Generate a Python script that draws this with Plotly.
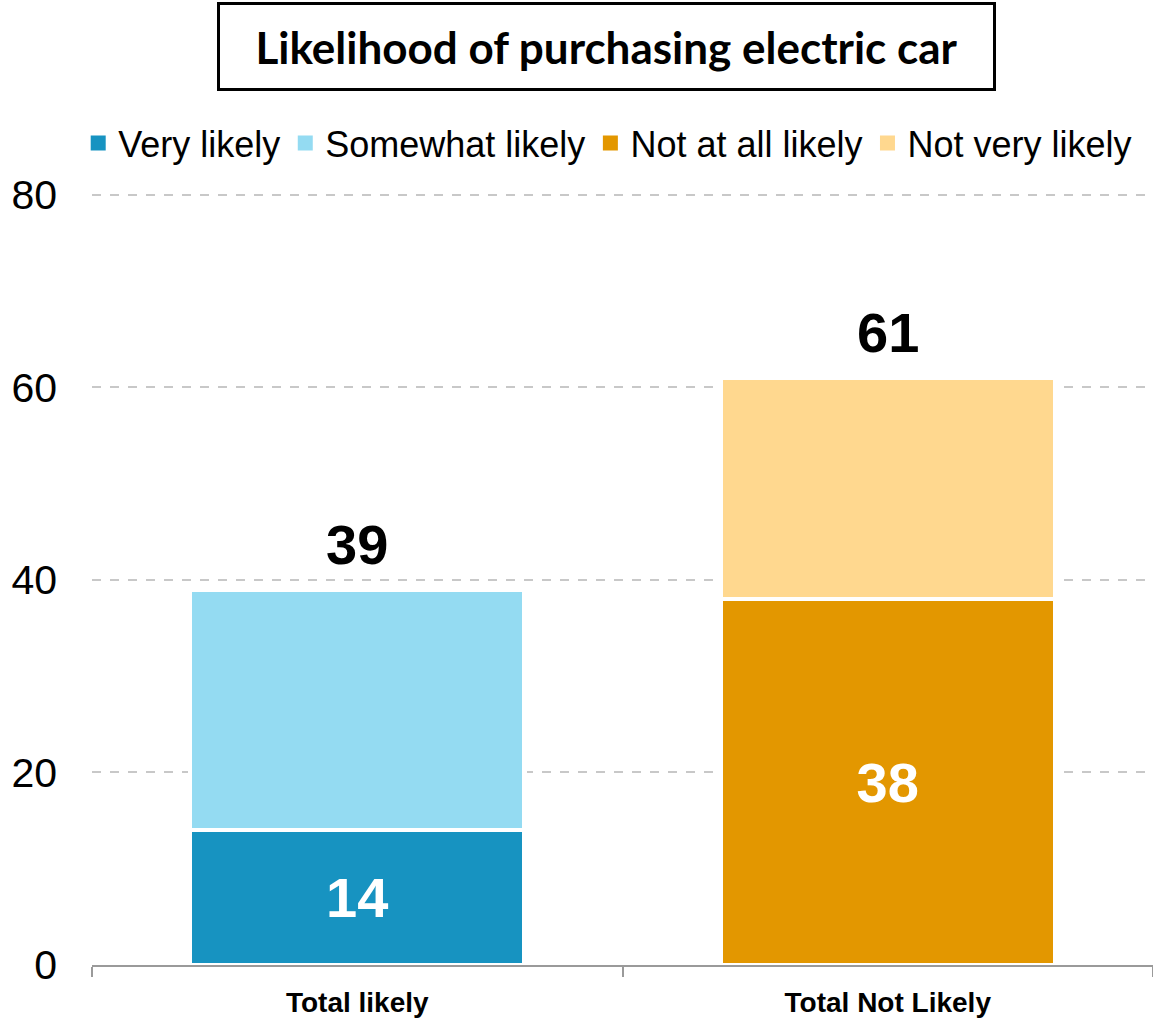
import plotly.graph_objects as go

CATEGORIES = ["Total likely", "Total Not Likely"]

SERIES_NAMES = ["Very likely", "Somewhat likely", "Not at all likely", "Not very likely"]
VERY_LIKELY = [14, None]
SOMEWHAT_LIKELY = [25, None]
NOT_AT_ALL_LIKELY = [None, 38]
NOT_VERY_LIKELY = [None, 23]

TOTALS = [39, 61]

TITLE = "Likelihood of purchasing electric car"

COLOR_VERY = "#1793C1"
COLOR_SOMEWHAT = "#94DBF2"
COLOR_NOT_AT_ALL = "#E39700"
COLOR_NOT_VERY = "#FFD88F"
COLOR_GRID = "#C8C8C8"
COLOR_AXIS = "#9A9A9A"

FONT = "Arial, Liberation Sans, sans-serif"

MARGIN_T = 192
PLOT_H = 1021 - MARGIN_T - 56


def _bar(name, values, color, labelled):
    return go.Bar(
        x=CATEGORIES,
        y=values,
        name=name,
        width=0.63,
        showlegend=False,
        marker={"color": color, "line": {"color": "white", "width": 4.5}},
        text=[str(v) if (labelled and v is not None) else "" for v in values],
        textposition="inside",
        insidetextanchor="middle",
        textangle=0,
        textfont={"family": FONT, "size": 56, "color": "white", "weight": "bold"},
        hoverinfo="name+y",
    )


def _legend_entry(name, color):
    # solo para la leyenda: cuadrado sólido del tamaño del original
    return go.Scatter(
        x=[None],
        y=[None],
        mode="markers",
        name=name,
        marker={"symbol": "square", "size": 15, "color": color},
        showlegend=True,
    )


colors = [COLOR_VERY, COLOR_SOMEWHAT, COLOR_NOT_AT_ALL, COLOR_NOT_VERY]
values = [VERY_LIKELY, SOMEWHAT_LIKELY, NOT_AT_ALL_LIKELY, NOT_VERY_LIKELY]
labelled = [True, False, True, False]

fig = go.Figure()
for name, vals, color, lab in zip(SERIES_NAMES, values, colors, labelled):
    fig.add_trace(_bar(name, vals, color, lab))
for name, color in zip(SERIES_NAMES, colors):
    fig.add_trace(_legend_entry(name, color))

# totales encima de cada barra
for cat, total in zip(CATEGORIES, TOTALS):
    fig.add_annotation(
        x=cat,
        y=total,
        text=f"<b>{total}</b>",
        showarrow=False,
        yanchor="bottom",
        yshift=12,
        font={"family": FONT, "size": 56, "color": "black"},
    )

# título en recuadro
fig.add_annotation(
    xref="paper",
    yref="paper",
    x=0.4845,
    y=1 + (MARGIN_T - 46.5) / PLOT_H,
    xanchor="center",
    yanchor="middle",
    text=f"<b>{TITLE}</b>",
    showarrow=False,
    width=773,
    height=83,
    borderpad=0,
    borderwidth=3,
    bordercolor="black",
    bgcolor="white",
    font={"family": "Lato, sans-serif", "size": 44, "color": "black"},
)

fig.update_layout(
    width=1153,
    height=1021,
    barmode="stack",
    plot_bgcolor="white",
    paper_bgcolor="white",
    margin={"l": 92, "r": 0, "t": MARGIN_T, "b": 56},
    font={"family": FONT, "color": "black"},
    showlegend=True,
    legend={
        "orientation": "h",
        "x": -0.013,
        "xanchor": "left",
        "y": 1 + (MARGIN_T - 143) / PLOT_H,
        "yanchor": "middle",
        "font": {"family": FONT, "size": 36, "color": "black"},
        "itemwidth": 30,
        "traceorder": "normal",
        "bgcolor": "rgba(0,0,0,0)",
    },
    xaxis={
        "showline": True,
        "linecolor": COLOR_AXIS,
        "linewidth": 1.5,
        "ticks": "outside",
        "tickson": "boundaries",
        "ticklen": 10,
        "tickcolor": COLOR_AXIS,
        "tickwidth": 1.5,
        "ticklabelstandoff": 12,
        "tickfont": {"family": FONT, "size": 28, "color": "black", "weight": "bold"},
        "showgrid": False,
        "fixedrange": True,
    },
    yaxis={
        # un poco más de 80 para que la línea de 80 no se recorte en el borde
        "range": [0, 80.3],
        "tickvals": [0, 20, 40, 60, 80],
        "showgrid": True,
        "gridcolor": COLOR_GRID,
        "gridwidth": 1.5,
        "griddash": "dash",
        "zeroline": False,
        "showline": False,
        "ticks": "",
        "ticklabelstandoff": 34,
        "tickfont": {"family": FONT, "size": 41, "color": "black"},
        "fixedrange": True,
    },
)

# sin margen del body para que la figura ocupe toda la ventana
fig.write_html(
    "out.html",
    config={"displayModeBar": False},
    post_script="document.body.style.margin = '0';",
)
